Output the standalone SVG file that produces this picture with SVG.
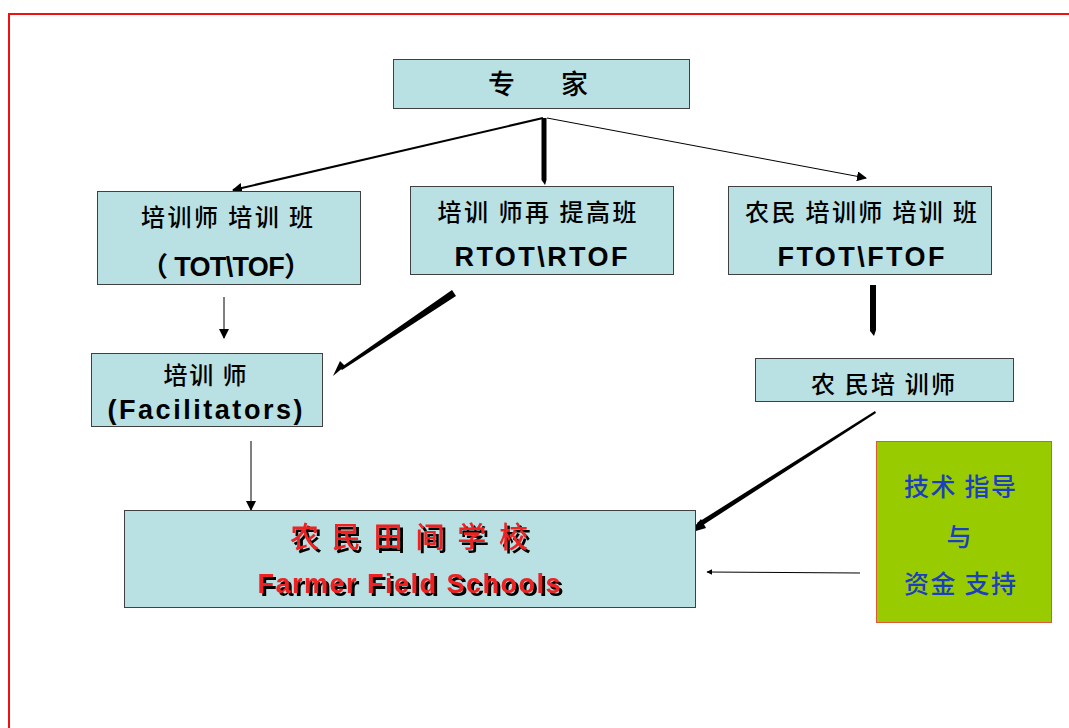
<svg xmlns="http://www.w3.org/2000/svg" width="1069" height="728" viewBox="0 0 1069 728">
<style>
.box{fill:#b9e0e3;stroke:#404040;stroke-width:1}
.cjk{font-family:"Noto Sans CJK SC","Liberation Sans",sans-serif;font-size:24px;font-weight:500;fill:#000;text-anchor:middle}
.lat{font-family:"Liberation Sans","Noto Sans CJK SC",sans-serif;font-weight:bold;font-size:27px;fill:#000;text-anchor:middle}
.ln{stroke:#000;fill:none}
</style>
<defs>
<marker id="ah" viewBox="0 0 10 10" refX="9" refY="5" markerWidth="6" markerHeight="6" markerUnits="userSpaceOnUse" orient="auto">
<path d="M0,0 L10,5 L0,10 z" fill="#000"/>
</marker>
<marker id="ahs" viewBox="0 0 10 10" refX="9" refY="5" markerWidth="10" markerHeight="10" markerUnits="userSpaceOnUse" orient="auto">
<path d="M0,0 L10,5 L0,10 z" fill="#000"/>
</marker>
<filter id="blk" x="-5%" y="-20%" width="115%" height="150%">
<feOffset in="SourceAlpha" dx="3" dy="3" result="o"/>
<feMerge><feMergeNode in="o"/><feMergeNode in="SourceGraphic"/></feMerge>
</filter>
</defs>
<rect width="1069" height="728" fill="#fff"/>
<path d="M1069,14 L9,14 L9,728" fill="none" stroke="#ee1111" stroke-width="2"/>

<g id="connectors">
<line class="ln" x1="543" y1="118" x2="233" y2="190" stroke-width="2" marker-end="url(#ahs)"/>
<path d="M541.5,118 L546.5,118 L546.5,180 L545,185 L541.5,180 z" fill="#000"/>
<line class="ln" x1="547" y1="118" x2="866" y2="178" stroke-width="1" marker-end="url(#ahs)"/>
<line class="ln" x1="224" y1="297" x2="224" y2="338" stroke-width="1" marker-end="url(#ahs)"/>
<path d="M452,290 L456,296 L342,370 L340,368 z" fill="#000"/>
<path d="M345,366 L333,376 L340,361 z" fill="#000"/>
<path d="M870,285 L876,285 L876,330 L874,336 L870,331 z" fill="#000"/>
<line class="ln" x1="251" y1="441" x2="251" y2="510" stroke-width="1" marker-end="url(#ahs)"/>
<path d="M875,411 L876,413 L700,527 L697,523 z" fill="#000"/>
<path d="M701,519 L689,533 L706,528 z" fill="#000"/>
<line class="ln" x1="860" y1="573" x2="707" y2="572" stroke-width="1" marker-end="url(#ah)"/>
</g>

<g id="expert">
<rect class="box" x="393.5" y="59.5" width="296" height="49"/>
<text class="cjk" x="538" y="94" style="font-size:27px" textLength="100" lengthAdjust="spacing">专　家</text>
</g>

<g id="tot">
<rect class="box" x="97.5" y="191.5" width="263" height="93"/>
<text class="cjk" x="227" y="226" textLength="172" lengthAdjust="spacing">培训师 培训 班</text>
<text class="lat" x="226" y="276" textLength="170" lengthAdjust="spacing">（ TOT\TOF）</text>
</g>

<g id="rtot">
<rect class="box" x="410.5" y="186.5" width="263" height="88"/>
<text class="cjk" x="537" y="221" textLength="199" lengthAdjust="spacing">培训 师再 提高班</text>
<text class="lat" x="541" y="266" textLength="173" lengthAdjust="spacing">RTOT\RTOF</text>
</g>

<g id="ftot">
<rect class="box" x="728.5" y="186.5" width="263" height="88"/>
<text class="cjk" x="861" y="221" textLength="232" lengthAdjust="spacing">农民 培训师 培训 班</text>
<text class="lat" x="861" y="266" textLength="167" lengthAdjust="spacing">FTOT\FTOF</text>
</g>

<g id="facilitators">
<rect class="box" x="91.5" y="353.5" width="231" height="73"/>
<text class="cjk" x="205" y="384" textLength="83" lengthAdjust="spacing">培训 师</text>
<text class="lat" x="205" y="419" textLength="195" lengthAdjust="spacing">(Facilitators)</text>
</g>

<g id="farmer-trainer">
<rect class="box" x="755.5" y="358.5" width="258" height="43"/>
<text class="cjk" x="883" y="393" textLength="144" lengthAdjust="spacing">农 民培 训师</text>
</g>

<g id="ffs">
<rect class="box" x="124.5" y="510.5" width="571" height="97"/>
<text class="cjk" x="409" y="548" textLength="238" lengthAdjust="spacing" filter="url(#blk)" style="fill:#ee2222;font-size:29px">农 民 田 间 学 校</text>
<text class="lat" x="409" y="593" textLength="303" lengthAdjust="spacing" filter="url(#blk)" style="fill:#ee2222;font-size:27px">Farmer Field Schools</text>
</g>

<g id="support">
<rect x="876.5" y="441.5" width="175" height="181" fill="#99cc00" stroke="#e05a3a" stroke-width="1"/>
<text class="cjk" x="960" y="496" textLength="112" lengthAdjust="spacing" style="fill:#1a3fbf;font-size:25px">技术 指导</text>
<text class="cjk" x="959" y="546" style="fill:#1a3fbf;font-size:25px">与</text>
<text class="cjk" x="960" y="593" textLength="112" lengthAdjust="spacing" style="fill:#1a3fbf;font-size:25px">资金 支持</text>
</g>
</svg>
